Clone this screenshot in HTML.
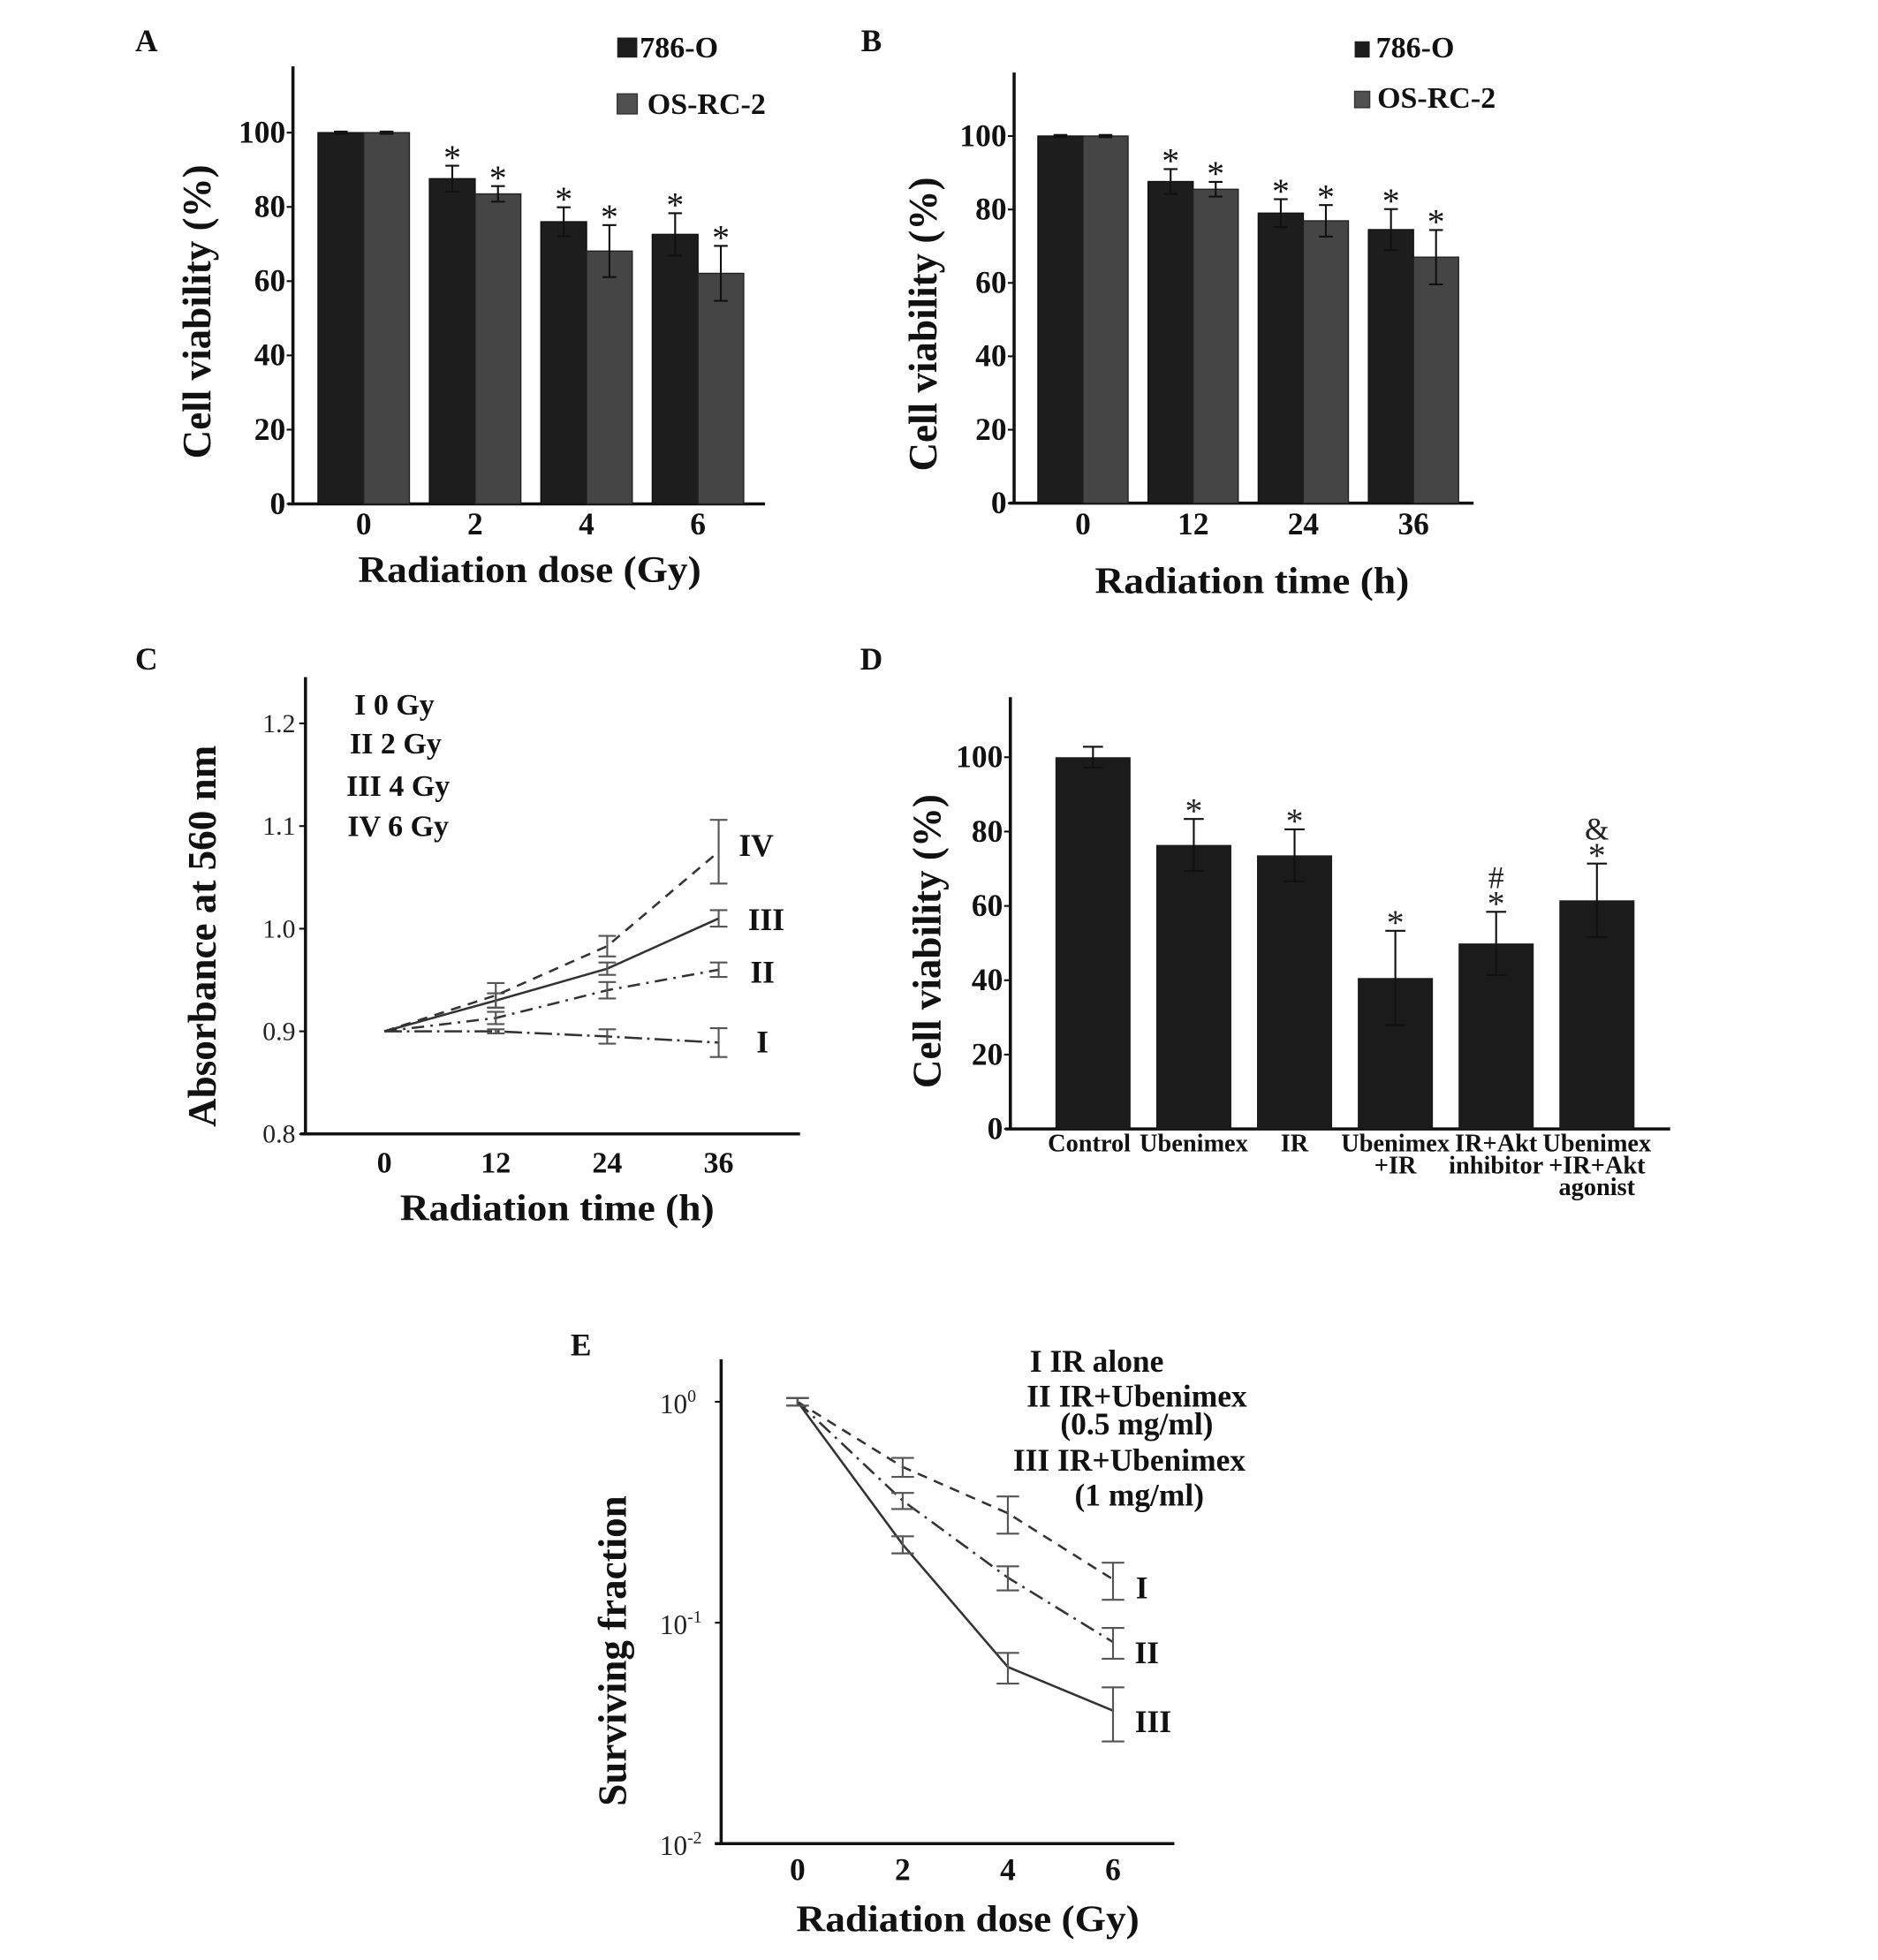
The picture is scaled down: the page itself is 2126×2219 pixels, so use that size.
<!DOCTYPE html>
<html><head><meta charset="utf-8"><style>
html,body{margin:0;padding:0;background:#fff}
svg{display:block}
text{font-family:"Liberation Serif",serif}
.b{font-weight:bold}
</style></head><body>
<svg id="fig" width="2126" height="2219" viewBox="0 0 1500 1566" preserveAspectRatio="none" xmlns="http://www.w3.org/2000/svg">
<rect x="0" y="0" width="1500" height="1566" fill="#fff"/>
</svg>
<script>
// Panel A data
const aCats=['0','2','4','6'];
const a786=[100,87.6,76,72.6];
const a786Err=[0.3,3.5,3.9,5.7];
const aOS=[100,83.5,68.1,62.1];
const aOSErr=[0.3,2.1,7,7.4];
const aTicks=[0,20,40,60,80,100];
// Panel B data
const bCats=['0','12','24','36'];
const b786=[100,87.6,79,74.5];
const b786Err=[0.3,3.4,3.8,5.6];
const bOS=[100,85.5,76.9,67];
const bOSErr=[0.3,2,4.3,7.4];
const bTicks=[0,20,40,60,80,100];
// Panel C data
const cTimes=[0,12,24,36];
const cI=[0.9,0.9,0.895,0.889];
const cIErr=[0,0.002,0.007,0.014];
const cII=[0.9,0.913,0.94,0.96];
const cIIErr=[0,0.006,0.008,0.007];
const cIII=[0.9,0.93,0.961,1.01];
const cIIIErr=[0,0.007,0.006,0.008];
const cIV=[0.9,0.935,0.983,1.075];
const cIVErr=[0,0.012,0.01,0.031];
const cTicks=['0.8','0.9','1.0','1.1','1.2'];
// Panel D data
const dCats=[['Control'],['Ubenimex'],['IR'],['Ubenimex','+IR'],['IR+Akt','inhibitor'],['Ubenimex','+IR+Akt','agonist']];
const dVals=[100,76.4,73.6,40.6,49.9,61.5];
const dErr=[2.8,7,7,12.7,8.5,9.9];
const dMarks=[[],['*'],['*'],['*'],['*','#'],['*','&']];
const dTicks=[0,20,40,60,80,100];
// Panel E data
const eDoses=[0,2,4,6];
const eI=[1,0.507,0.313,0.157];
const eIErr=[0.04,0.05,0.06,0.03];
const eII=[1,0.357,0.16,0.0817];
const eIIErr=[0.04,0.03,0.02,0.013];
const eIII=[1,0.226,0.063,0.04];
const eIIIErr=[0.04,0.02,0.01,0.011];
const eTickExp=['0','-1','-2'];

const NS='http://www.w3.org/2000/svg';
const svg=document.getElementById('fig');
function mk(tag,attrs,parent){const e=document.createElementNS(NS,tag);for(const k in attrs)e.setAttribute(k,attrs[k]);(parent||svg).appendChild(e);return e;}
function txt(s,attrs,parent){const t=mk('text',attrs,parent);t.textContent=s;return t;}
function grp(name){const g=mk('g',{});


return g;}
function errbar(g,x,yt,yb,w,col,sw){
 mk('line',{x1:x,x2:x,y1:yt,y2:yb,stroke:col,'stroke-width':sw},g);
 mk('line',{x1:x-w/2,x2:x+w/2,y1:yt,y2:yt,stroke:col,'stroke-width':sw},g);
 mk('line',{x1:x-w/2,x2:x+w/2,y1:yb,y2:yb,stroke:col,'stroke-width':sw},g);
}

// ===== grouped bar panels A & B =====
function groupedPanel(o){
 const g=grp(o.name);
 const y=v=>o.y0-(v/100)*(o.y0-o.y100);
 // axes
 const ax=mk('line',{x1:o.ax,x2:o.ax,y1:o.top,y2:o.y0+1,stroke:'#111','stroke-width':2.5},g);
 
 
 const xa=mk('line',{x1:o.ax-4,x2:o.xend,y1:o.y0,y2:o.y0,stroke:'#111','stroke-width':2.5},g);
 
 
 o.ticks.forEach(t=>{
  mk('line',{x1:o.ax-5,x2:o.ax,y1:y(t),y2:y(t),stroke:'#111','stroke-width':1.5},g);
  const tl=txt(String(t),{x:o.ax-6,y:y(t)+8,'text-anchor':'end','font-size':25,class:'b',fill:'#111'},g);
  
  
 });
 o.cats.forEach((c,i)=>{
  const mid=o.b0+i*o.step;
  const r1=mk('rect',{x:mid-o.bw,y:y(o.s1[i]),width:o.bw,height:o.y0-y(o.s1[i]),fill:'#1d1d1d',stroke:'#111','stroke-width':1},g);
  
  
  const r2=mk('rect',{x:mid,y:y(o.s2[i]),width:o.bw,height:o.y0-y(o.s2[i]),fill:'#454545',stroke:'#222','stroke-width':1},g);
  
  
  const x1=mid-o.bw/2,x2=mid+o.bw/2;
  errbar(g,x1,y(o.s1[i]+o.e1[i]),y(o.s1[i]-o.e1[i]),11,'#111',1.5);
  errbar(g,x2,y(o.s2[i]+o.e2[i]),y(o.s2[i]-o.e2[i]),11,'#111',1.5);
  if(i>0){
   const st1=txt('*',{x:x1,y:y(o.s1[i]+o.e1[i])+3,'text-anchor':'middle','font-size':28,fill:'#111'},g);
   
   
   const st2=txt('*',{x:x2,y:y(o.s2[i]+o.e2[i])+3,'text-anchor':'middle','font-size':28,fill:'#111'},g);
   
   
  }
  const xl=txt(c,{x:mid,y:o.tickY,'text-anchor':'middle','font-size':25,class:'b',fill:'#111'},g);
  
  
 });
 const yt=txt('Cell viability (%)',{x:0,y:0,transform:`translate(${o.ytx},${o.yty}) rotate(-90)`,'text-anchor':'middle','font-size':32,class:'b',fill:'#111',textLength:235,lengthAdjust:'spacingAndGlyphs'},g);
 
 
 const xt=txt(o.xtitle,{x:o.xtx,y:o.xty,'text-anchor':'middle','font-size':30,class:'b',fill:'#111',textLength:o.xtl,lengthAdjust:'spacingAndGlyphs'},g);
 
 
 const l1=mk('rect',{x:o.lx,y:o.l1y,width:o.lw,height:o.lh,fill:'#1d1d1d'},g);
 
 
 const lt1=txt('786-O',{x:o.ltx1,y:o.l1y+o.lh,'font-size':24,class:'b',fill:'#111'},g);
 
 
 const l2=mk('rect',{x:o.lx,y:o.l2y,width:o.lw,height:o.lh,fill:'#505050',stroke:'#333','stroke-width':1},g);
 
 
 const lt2=txt('OS-RC-2',{x:o.ltx2,y:o.l2y+o.lh,'font-size':24,class:'b',fill:'#111'},g);
 
 
 const pl=txt(o.letter,{x:o.px,y:41,'text-anchor':'middle','font-size':25,class:'b',fill:'#111'},g);
 
 
}
groupedPanel({name:'panel-a-chart',letter:'A',px:117,ax:234,xend:611,top:53,y0:402.6,y100:106,b0:290.5,step:89,bw:36.5,
 cats:aCats,s1:a786,e1:a786Err,s2:aOS,e2:aOSErr,ticks:aTicks,tickY:427,ytx:168,yty:249,xtitle:'Radiation dose (Gy)',xtx:423,xty:465,xtl:274,
 lx:493,l1y:30,l2y:75,lw:16,lh:16,ltx1:511,ltx2:517});
groupedPanel({name:'panel-b-chart',letter:'B',px:696,ax:810,xend:1177,top:58,y0:402,y100:108.7,b0:865,step:88,bw:36,
 cats:bCats,s1:b786,e1:b786Err,s2:bOS,e2:bOSErr,ticks:bTicks,tickY:427,ytx:748,yty:259,xtitle:'Radiation time (h)',xtx:1000,xty:474,xtl:251,
 lx:1082,l1y:33,l2y:73,lw:12,lh:13,ltx1:1099,ltx2:1100});

// ===== Panel C =====
(function(){
 const g=grp('panel-c-chart');
 const xC=t=>307+t*(574-307)/36;
 const yC=v=>906-(v-0.8)*820;
 const ax=mk('line',{x1:244,x2:244,y1:541,y2:907,stroke:'#111','stroke-width':2.5},g);
 
 
 const xa=mk('line',{x1:240,x2:639,y1:906,y2:906,stroke:'#111','stroke-width':2.5},g);
 
 
 cTicks.forEach(t=>{
  const v=parseFloat(t);
  mk('line',{x1:239,x2:244,y1:yC(v),y2:yC(v),stroke:'#111','stroke-width':1.5},g);
  const tl=txt(t,{x:236,y:yC(v)+7,'text-anchor':'end','font-size':21,fill:'#222'},g);
  
  
 });
 cTimes.forEach(t=>{
  const xl=txt(String(t),{x:xC(t),y:937,'text-anchor':'middle','font-size':24,class:'b',fill:'#111'},g);
  
  
 });
 const series=[
  {n:'I',v:cI,e:cIErr,dash:'14 4 2 4',lx:609,ly:841},
  {n:'II',v:cII,e:cIIErr,dash:'10 5 2 5',lx:609,ly:785},
  {n:'III',v:cIII,e:cIIIErr,dash:'none',lx:612,ly:743},
  {n:'IV',v:cIV,e:cIVErr,dash:'8 6',lx:604,ly:684}];
 series.forEach(s=>{
  const pts=s.v.map((v,i)=>xC(cTimes[i])+','+yC(v)).join(' ');
  const pl=mk('polyline',{points:pts,fill:'none',stroke:'#333','stroke-width':1.8,'stroke-dasharray':s.dash},g);
  
  
  s.v.forEach((v,i)=>{ if(s.e[i]>0) errbar(g,xC(cTimes[i]),yC(v+s.e[i]),yC(v-s.e[i]),14,'#555',1.5); });
  const lb=txt(s.n,{x:s.lx,y:s.ly,'text-anchor':'middle','font-size':25,class:'b',fill:'#111'},g);
  
  
 });
 [['I 0 Gy',315,571],['II 2 Gy',316,602],['III 4 Gy',318,636],['IV 6 Gy',318,668]].forEach(l=>{
  const t=txt(l[0],{x:l[1],y:l[2],'text-anchor':'middle','font-size':24,class:'b',fill:'#111'},g);
  
  
 });
 const yt=txt('Absorbance at 560 nm',{x:0,y:0,transform:'translate(172,748) rotate(-90)','text-anchor':'middle','font-size':32,class:'b',fill:'#111',textLength:305,lengthAdjust:'spacingAndGlyphs'},g);
 
 
 const xt=txt('Radiation time (h)',{x:445,y:975,'text-anchor':'middle','font-size':30,class:'b',fill:'#111',textLength:251,lengthAdjust:'spacingAndGlyphs'},g);
 
 
 const pl=txt('C',{x:117,y:535,'text-anchor':'middle','font-size':25,class:'b',fill:'#111'},g);
 
 
})();

// ===== Panel D =====
(function(){
 const g=grp('panel-d-chart');
 const y0=902,y100=605;
 const y=v=>y0-(v/100)*(y0-y100);
 const xD=i=>873+i*80.5;
 const ax=mk('line',{x1:807,x2:807,y1:557,y2:903,stroke:'#111','stroke-width':2.5},g);
 
 
 const xa=mk('line',{x1:803,x2:1334,y1:y0,y2:y0,stroke:'#111','stroke-width':2.5},g);
 
 
 dTicks.forEach(t=>{
  mk('line',{x1:802,x2:807,y1:y(t),y2:y(t),stroke:'#111','stroke-width':1.5},g);
  const tl=txt(String(t),{x:801,y:y(t)+8,'text-anchor':'end','font-size':25,class:'b',fill:'#111'},g);
  
  
 });
 dVals.forEach((v,i)=>{
  const r=mk('rect',{x:xD(i)-30,y:y(v),width:60,height:y0-y(v),fill:'#1b1b1b'},g);
  
  
  errbar(g,xD(i),y(v+dErr[i]),y(v-dErr[i]),16,'#111',1.5);
  let by=y(v+dErr[i])+3;
  dMarks[i].forEach(m=>{
   const mt=txt(m,{x:xD(i),y:m==='*'?by:by+10,'text-anchor':'middle','font-size':m==='*'?28:25,fill:'#222'},g);
   
   
   by-=32;
  });
  dCats[i].forEach((line,j)=>{
   const xl=txt(line,{x:xD(i)-(i===0?3:0),y:920+j*17.5,'text-anchor':'middle','font-size':20,class:'b',fill:'#111'},g);
   
   
  });
 });
 const yt=txt('Cell viability (%)',{x:0,y:0,transform:'translate(751,752) rotate(-90)','text-anchor':'middle','font-size':32,class:'b',fill:'#111',textLength:235,lengthAdjust:'spacingAndGlyphs'},g);
 
 
 const pl=txt('D',{x:696,y:535,'text-anchor':'middle','font-size':25,class:'b',fill:'#111'},g);
 
 
})();

// ===== Panel E =====
(function(){
 const g=grp('panel-e-chart');
 const xE=d=>637+d*42;
 const yE=v=>1120-Math.log10(v)*176.5;
 const ax=mk('line',{x1:576,x2:576,y1:1086,y2:1474,stroke:'#111','stroke-width':2.5},g);
 
 
 const xa=mk('line',{x1:571,x2:938,y1:1473,y2:1473,stroke:'#111','stroke-width':2.5},g);
 
 
 eTickExp.forEach(e=>{
  const v=Math.pow(10,parseFloat(e));
  mk('line',{x1:571,x2:576,y1:yE(v),y2:yE(v),stroke:'#111','stroke-width':1.5},g);
  const tl=txt('10',{x:527,y:yE(v)+9,'font-size':22,fill:'#222'},g);
  const sp=mk('tspan',{dy:-9,'font-size':14},tl);
  sp.textContent=e;
  
  
 });
 eDoses.forEach(d=>{
  const xl=txt(String(d),{x:xE(d),y:1502,'text-anchor':'middle','font-size':25,class:'b',fill:'#111'},g);
  
  
 });
 const series=[
  {n:'I',v:eI,e:eIErr,dash:'8 6',lx:912,ly:1277},
  {n:'II',v:eII,e:eIIErr,dash:'12 5 2 5',lx:916,ly:1329},
  {n:'III',v:eIII,e:eIIIErr,dash:'none',lx:921,ly:1384}];
 series.forEach(s=>{
  const pts=s.v.map((v,i)=>xE(eDoses[i])+','+yE(v)).join(' ');
  const pl=mk('polyline',{points:pts,fill:'none',stroke:'#333','stroke-width':1.8,'stroke-dasharray':s.dash},g);
  
  
  s.v.forEach((v,i)=>{ errbar(g,xE(eDoses[i]),yE(v+s.e[i]),yE(v-s.e[i]),18,'#555',1.5); });
  const lb=txt(s.n,{x:s.lx,y:s.ly,'text-anchor':'middle','font-size':25,class:'b',fill:'#111'},g);
  
  
 });
 [['I IR alone',876,1096],['II IR+Ubenimex',908,1124],['(0.5 mg/ml)',908,1146],['III IR+Ubenimex',902,1175],['(1 mg/ml)',910,1203]].forEach(l=>{
  const t=txt(l[0],{x:l[1],y:l[2],'text-anchor':'middle','font-size':25,class:'b',fill:'#111'},g);
  
  
 });
 const yt=txt('Surviving fraction',{x:0,y:0,transform:'translate(500,1319) rotate(-90)','text-anchor':'middle','font-size':32,class:'b',fill:'#111',textLength:248,lengthAdjust:'spacingAndGlyphs'},g);
 
 
 const xt=txt('Radiation dose (Gy)',{x:773,y:1543,'text-anchor':'middle','font-size':30,class:'b',fill:'#111',textLength:274,lengthAdjust:'spacingAndGlyphs'},g);
 
 
 const pl=txt('E',{x:464,y:1083,'text-anchor':'middle','font-size':25,class:'b',fill:'#111'},g);
 
 
})();
</script>
</body></html>
